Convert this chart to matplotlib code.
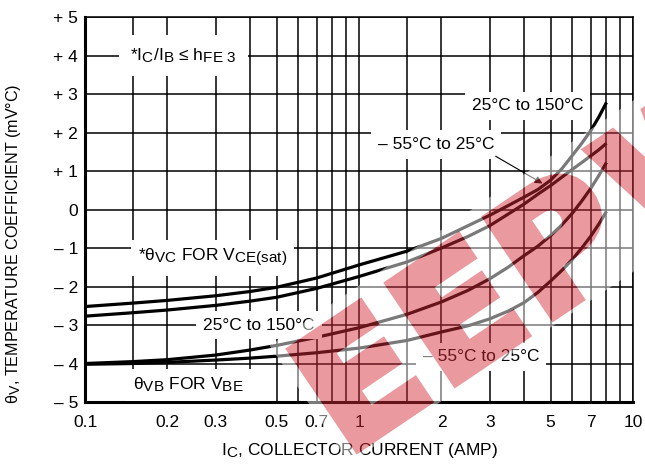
import numpy as np
import matplotlib
matplotlib.use('Agg')
import matplotlib.pyplot as plt
import matplotlib._mathtext as mathtext_core
from matplotlib import font_manager
from matplotlib.font_manager import FontProperties
from matplotlib.textpath import TextPath
from matplotlib.patches import PathPatch
from matplotlib.path import Path
from matplotlib.transforms import Affine2D

# collector current (A) and temperature coefficients (mV/°C)
current = [0.1, 0.15, 0.2, 0.3, 0.4, 0.5, 0.7, 1, 1.5, 2, 2.5, 3, 3.5, 4, 4.5,
           5, 5.5, 6, 6.5, 7, 7.5, 8]
vce_25_150 = [-2.52, -2.43, -2.36, -2.24, -2.13, -2.02, -1.78, -1.44, -1.08, -0.75, -0.42,
              -0.15, 0.1, 0.32, 0.52, 0.76, 1.06, 1.4, 1.72, 2.04, 2.4, 2.78]
vce_m55_25 = [-2.77, -2.68, -2.61, -2.49, -2.38, -2.28, -2.05, -1.74, -1.36, -1.0, -0.7,
              -0.42, -0.12, 0.14, 0.4, 0.62, 0.84, 1.04, 1.22, 1.39, 1.55, 1.72]
vbe_25_150 = [-4.0, -3.95, -3.9, -3.78, -3.65, -3.53, -3.32, -3.07, -2.72, -2.4, -2.1,
              -1.8, -1.5, -1.2, -0.95, -0.68, -0.4, -0.1, 0.22, 0.54, 0.88, 1.22]
vbe_m55_25 = [-4.02, -4.0, -3.97, -3.91, -3.86, -3.81, -3.72, -3.6, -3.4, -3.18, -3.02,
              -2.84, -2.64, -2.42, -2.15, -1.86, -1.58, -1.3, -1.0, -0.7, -0.38, -0.05]

x_ticks = [0.1, 0.2, 0.3, 0.5, 0.7, 1, 2, 3, 5, 7, 10]
x_labels = ['0.1', '0.2', '0.3', '0.5', '0.7', '1', '2', '3', '5', '7', '10']
x_grid = [0.15, 0.4, 0.6, 0.8, 0.9, 1.5, 4, 6, 8, 9]
y_ticks = [5, 4, 3, 2, 1, 0, -1, -2, -3, -4, -5]
y_labels = ['+ 5', '+ 4', '+ 3', '+ 2', '+ 1', '0', '– 1', '– 2', '– 3', '– 4', '– 5']

W, H = 645, 466

# subscripts in the original are nearly full size
mathtext_core.SHRINK_FACTOR = 0.88

names = {f.name for f in font_manager.fontManager.ttflist}
main_font = 'Liberation Sans Narrow' if 'Liberation Sans Narrow' in names else 'Liberation Sans'
plt.rcParams['font.family'] = [main_font, 'Liberation Sans', 'DejaVu Sans']
plt.rcParams['mathtext.fontset'] = 'custom'
plt.rcParams['mathtext.rm'] = main_font
plt.rcParams['mathtext.it'] = main_font
plt.rcParams['mathtext.default'] = 'regular'


def watermark_image():
    # render the EEPW stamp offscreen, then make it translucent
    wf = plt.figure(figsize=(W / 100, H / 100), dpi=100)
    wf.patch.set_alpha(0)
    fp = FontProperties(family='DejaVu Sans', weight='bold')
    glyphs = []
    xpos = 0.0
    for ch in 'EEPW':
        g = TextPath((xpos, 0), ch, size=1, prop=fp)
        glyphs.append(g)
        xpos = g.get_extents().x1 + 0.12
    word = Path.make_compound_path(*glyphs)
    ext = word.get_extents()
    s = 118 / ext.height
    top, bot = 16 / s, 8 / s
    x0, y0, x1, y1 = ext.x0 - top, ext.y0 - bot, ext.x1 + top, ext.y1 + top
    rect = Path([(x0, y0), (x1, y0), (x1, y1), (x0, y1), (x0, y0)],
                [Path.MOVETO, Path.LINETO, Path.LINETO, Path.LINETO, Path.CLOSEPOLY])
    tr = Affine2D().translate(-ext.x0, -ext.y1).scale(s).rotate_deg(34).translate(292, H - 350)
    wf.add_artist(PathPatch(rect, transform=tr, facecolor='white', edgecolor='none'))
    red = (212 / 255, 42 / 255, 55 / 255)
    wf.add_artist(PathPatch(word, transform=tr, facecolor=red, edgecolor=red,
                            linewidth=7, joinstyle='miter'))
    wf.canvas.draw()
    img = np.asarray(wf.canvas.buffer_rgba()).astype(float) / 255
    plt.close(wf)
    img[..., 3] *= 0.48
    return img


fig = plt.figure(figsize=(W / 100, H / 100), dpi=100)
ax = fig.add_axes([0.1318, 0.1373, 0.8496, 0.8262])
ax.set_xscale('log')
ax.set_xlim(0.1, 10)
ax.set_ylim(-5, 5)

ax.set_xticks(x_ticks)
ax.set_xticklabels(x_labels)
ax.set_xticks(x_grid, minor=True)
ax.set_yticks(y_ticks)
ax.set_yticklabels(y_labels)
ax.tick_params(which='both', length=0, labelsize=12.5)
ax.tick_params(axis='x', pad=9)
ax.tick_params(axis='y', pad=5)
ax.set_axisbelow(True)
ax.grid(which='both', color='black', linewidth=1.1)

for side in ['left', 'bottom']:
    ax.spines[side].set_linewidth(2.2)
for side in ['top', 'right']:
    ax.spines[side].set_linewidth(1.1)

# curves
for series in [vce_25_150, vce_m55_25, vbe_25_150, vbe_m55_25]:
    ax.plot(current, series, color='black', linewidth=2.3, solid_capstyle='butt', zorder=3)

box = dict(facecolor='white', edgecolor='none', pad=5)
fs = 12.5
ax.text(0.146, 4.0, r'*I$_{C}$/I$_{B}$ ≤ h$_{FE\ 3}$', fontsize=fs, ha='left', va='center',
        bbox=dict(facecolor='white', edgecolor='none', pad=8), zorder=4)
ax.text(4.12, 2.69, '25°C to 150°C', fontsize=fs, ha='center', va='center', bbox=box, zorder=4)
ax.text(1.91, 1.70, '– 55°C to 25°C', fontsize=fs, ha='center', va='center', bbox=box, zorder=4)
ax.text(0.156, -1.26, r'*$\theta_{VC}$ FOR V$_{CE(sat)}$', fontsize=fs, ha='left', va='center',
        bbox=box, zorder=4)
ax.text(0.27, -3.0, '25°C to 150°C', fontsize=fs, ha='left', va='center', bbox=box, zorder=4)
ax.text(1.71, -3.83, '– 55°C to 25°C', fontsize=fs, ha='left', va='center', bbox=box, zorder=4)
ax.text(0.150, -4.56, r'$\theta_{VB}$ FOR V$_{BE}$', fontsize=fs, ha='left', va='center',
        bbox=box, zorder=4)

ax.annotate('', xy=(4.77, 0.64), xytext=(3.09, 1.42),
            arrowprops=dict(arrowstyle='-|>', color='black', lw=0.8, mutation_scale=11),
            zorder=5)

fig.text(14 / W, 1 - 244 / H, r'$\theta_{V}$, TEMPERATURE COEFFICIENT (mV°C)',
         rotation=90, ha='center', va='center', fontsize=11.6)
fig.text(360 / W, 1 - 450 / H, r'I$_{C}$, COLLECTOR CURRENT (AMP)',
         ha='center', va='center', fontsize=fs)

fig.figimage(watermark_image(), xo=0, yo=0, origin='upper', zorder=10)

fig.savefig('out.png', dpi=100)
